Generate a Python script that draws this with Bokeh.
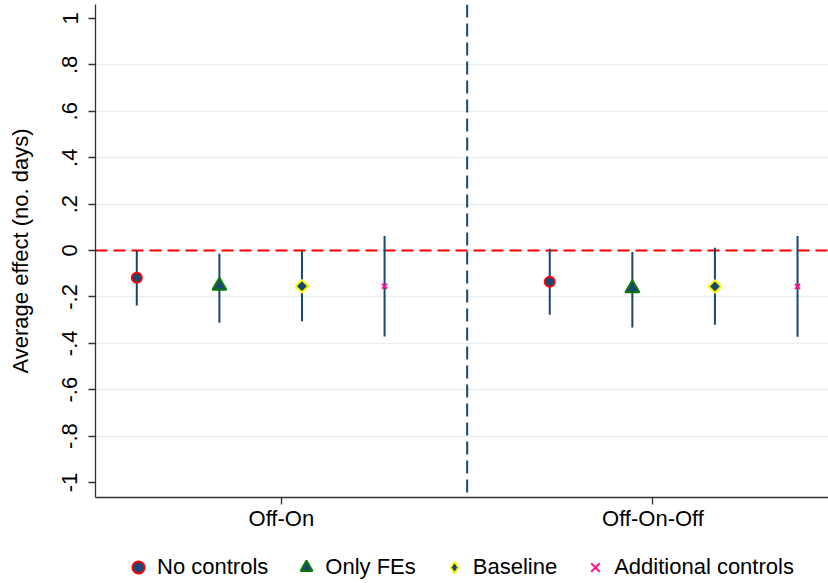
from bokeh.plotting import figure
from bokeh.layouts import column
from bokeh.models import Range1d, FixedTicker, Span, Legend, LegendItem
from bokeh.embed import file_html
from bokeh.resources import INLINE

groups = ["Off-On", "Off-On-Off"]
group_ticks = [2.75, 7.25]
specs = ["No controls", "Only FEs", "Baseline", "Additional controls"]

# point estimates and CI bounds
est_offon = [-0.118, -0.152, -0.154, -0.154]
lo_offon = [-0.237, -0.312, -0.305, -0.371]
hi_offon = [0.000, -0.014, -0.003, 0.062]
est_offonoff = [-0.135, -0.163, -0.155, -0.155]
lo_offonoff = [-0.277, -0.332, -0.320, -0.372]
hi_offonoff = [0.007, -0.007, 0.012, 0.062]

yticks = [-1, -0.8, -0.6, -0.4, -0.2, 0, 0.2, 0.4, 0.6, 0.8, 1]
ylabels = ["-1", "-.8", "-.6", "-.4", "-.2", "0", ".2", ".4", ".6", ".8", "1"]

NAVY = "#1a476f"
FONT = "Liberation Sans"

p = figure(width=828, height=540, output_backend="svg", toolbar_location=None,
           x_range=Range1d(0.5, 9.375), y_range=Range1d(-1.0647, 1.0603),
           min_border_left=95, min_border_right=0, min_border_top=4,
           min_border_bottom=43)
p.outline_line_color = None
p.xgrid.visible = False

# grid
p.ygrid.ticker = FixedTicker(ticks=[t for t in yticks if abs(t) < 1])
p.ygrid.grid_line_color = "#e9eff2"
p.ygrid.grid_line_width = 1.5

# y axis
p.yaxis.ticker = FixedTicker(ticks=yticks)
p.yaxis.major_label_overrides = dict(zip(yticks, ylabels))
p.yaxis.major_label_orientation = "vertical"
p.yaxis.axis_label = "Average effect (no. days)"
p.yaxis.minor_tick_line_color = None

# x axis
p.xaxis.ticker = FixedTicker(ticks=group_ticks)
p.xaxis.major_label_overrides = dict(zip(group_ticks, groups))

for ax in [p.xaxis[0], p.yaxis[0]]:
    ax.axis_line_color = "#333333"
    ax.axis_line_width = 1.3
    ax.major_tick_line_color = "#333333"
    ax.major_tick_line_width = 1.3
    ax.major_tick_out = 7
    ax.major_tick_in = 0
    ax.major_label_text_font = FONT
    ax.major_label_text_font_size = "22px"
    ax.major_label_text_color = "black"
    ax.axis_label_text_font = FONT
    ax.axis_label_text_font_size = "22px"
    ax.axis_label_text_font_style = "normal"
    ax.axis_label_text_color = "black"
p.yaxis.major_label_standoff = 11
p.yaxis.axis_label_standoff = 27
p.xaxis.major_label_standoff = 1

# reference lines
p.add_layout(Span(location=0, dimension="width", line_color="red",
                  line_dash="12 6", line_width=2, level="underlay"))
p.add_layout(Span(location=5, dimension="height", line_color=NAVY,
                  line_dash="13 6", line_width=2, level="underlay"))

# x positions: 4 specs per group, a gap of one slot between groups
xs = [g * 5 + k + 1 for g in range(len(groups)) for k in range(len(specs))]
lo = lo_offon + lo_offonoff
hi = hi_offon + hi_offonoff
p.segment(x0=xs, y0=lo, x1=xs, y1=hi, line_color=NAVY, line_width=2)

styles = [
    dict(marker="circle", size=10, fill_color=NAVY, line_color="red", line_width=2),
    dict(marker="triangle", size=14, fill_color=NAVY, line_color="#0a7a0a", line_width=2),
    dict(marker="square", size=9, angle=0.785398, fill_color=NAVY, line_color="#ffff00", line_width=2),
    dict(marker="x", size=7, line_color="#ff1493", line_width=2),
]
legend_markers = ["circle", "triangle", "diamond", "x"]

# legend strip under the plot (renderers hidden, only used for the legend)
lg = figure(width=828, height=43, output_backend="svg", toolbar_location=None,
            x_range=Range1d(0, 1), y_range=Range1d(0, 1),
            x_axis_location=None, y_axis_location=None, min_border=0,
            min_border_left=0, min_border_right=0, min_border_top=0,
            min_border_bottom=0)
lg.outline_line_color = None
lg.grid.visible = False

items = []
for k, name in enumerate(specs):
    kx = [g * 5 + k + 1 for g in range(len(groups))]
    ky = [est_offon[k], est_offonoff[k]]
    p.scatter(x=kx, y=ky, **styles[k])
    st = dict(styles[k])
    st.pop("angle", None)
    st["marker"] = legend_markers[k]
    r = lg.scatter(x=kx, y=ky, visible=False, **st)
    items.append(LegendItem(label=name, renderers=[r]))

legend = Legend(items=items, location=(28, 1), orientation="horizontal",
                glyph_width=30, glyph_height=30, label_height=30,
                label_standoff=4, spacing=23, padding=0, margin=0,
                border_line_color=None, background_fill_alpha=0,
                label_text_font=FONT, label_text_font_size="22px",
                label_text_color="black")
lg.add_layout(legend)

layout = column(p, lg, spacing=0)
open("out.html", "w").write(file_html(layout, INLINE))
